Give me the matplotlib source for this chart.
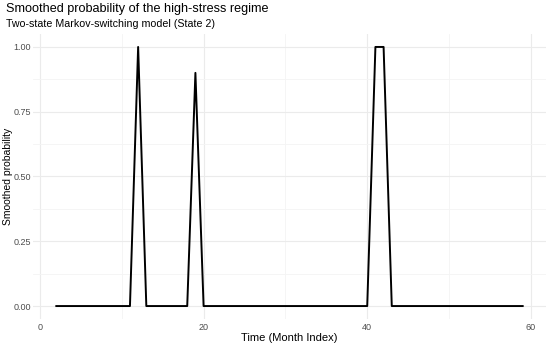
import numpy as np
import matplotlib
matplotlib.use("Agg")
import matplotlib.pyplot as plt
from matplotlib.ticker import MultipleLocator

# smoothed probability of state 2, months 2..59
months = list(range(2, 60))
prob = [0.0] * len(months)
peaks = {12: 1.0, 19: 0.9, 41: 1.0, 42: 1.0}
for m, p in peaks.items():
    prob[months.index(m)] = p

xticks = [0, 20, 40, 60]
yticks = [0.0, 0.25, 0.5, 0.75, 1.0]
ytick_labels = ["0.00", "0.25", "0.50", "0.75", "1.00"]

plt.rcParams["font.family"] = ["Liberation Sans", "DejaVu Sans"]

fig = plt.figure(figsize=(5.5, 3.48), dpi=100)
ax = fig.add_axes([33 / 550, 1 - 319 / 348, (546 - 33) / 550, (319 - 34) / 348])

ax.plot(months, prob, color="black", lw=1.4)

span = months[-1] - months[0]
ax.set_xlim(months[0] - 0.05 * span, months[-1] + 0.05 * span)
ax.set_ylim(-0.05, 1.05)
ax.set_xticks(xticks)
ax.set_yticks(yticks)
ax.set_yticklabels(ytick_labels)
ax.xaxis.set_minor_locator(MultipleLocator(10))
ax.yaxis.set_minor_locator(MultipleLocator(0.125))

ax.grid(which="major", color="#ebebeb", lw=0.8)
ax.grid(which="minor", color="#f4f4f4", lw=0.6)
ax.set_axisbelow(True)
for s in ax.spines.values():
    s.set_visible(False)
ax.tick_params(which="both", length=0, labelsize=6.5, labelcolor="#4d4d4d")
ax.tick_params(axis="y", pad=1.5)
ax.tick_params(axis="x", pad=3)

ax.set_xlabel("Time (Month Index)", fontsize=8, color="black")
ax.set_ylabel("Smoothed probability", fontsize=7.5, color="black")
ax.xaxis.set_label_coords(0.499, -0.067)
ax.yaxis.set_label_coords(-0.049, 0.5)
ax.xaxis.label.set_va("center")
ax.yaxis.label.set_va("center")

fig.text(6 / 550, 1 - 9 / 348, "Smoothed probability of the high-stress regime",
         fontsize=9.1, va="center", ha="left")
fig.text(6 / 550, 1 - 24 / 348, "Two-state Markov-switching model (State 2)",
         fontsize=7.7, va="center", ha="left")

fig.savefig("out.png", dpi=100, facecolor="white")
